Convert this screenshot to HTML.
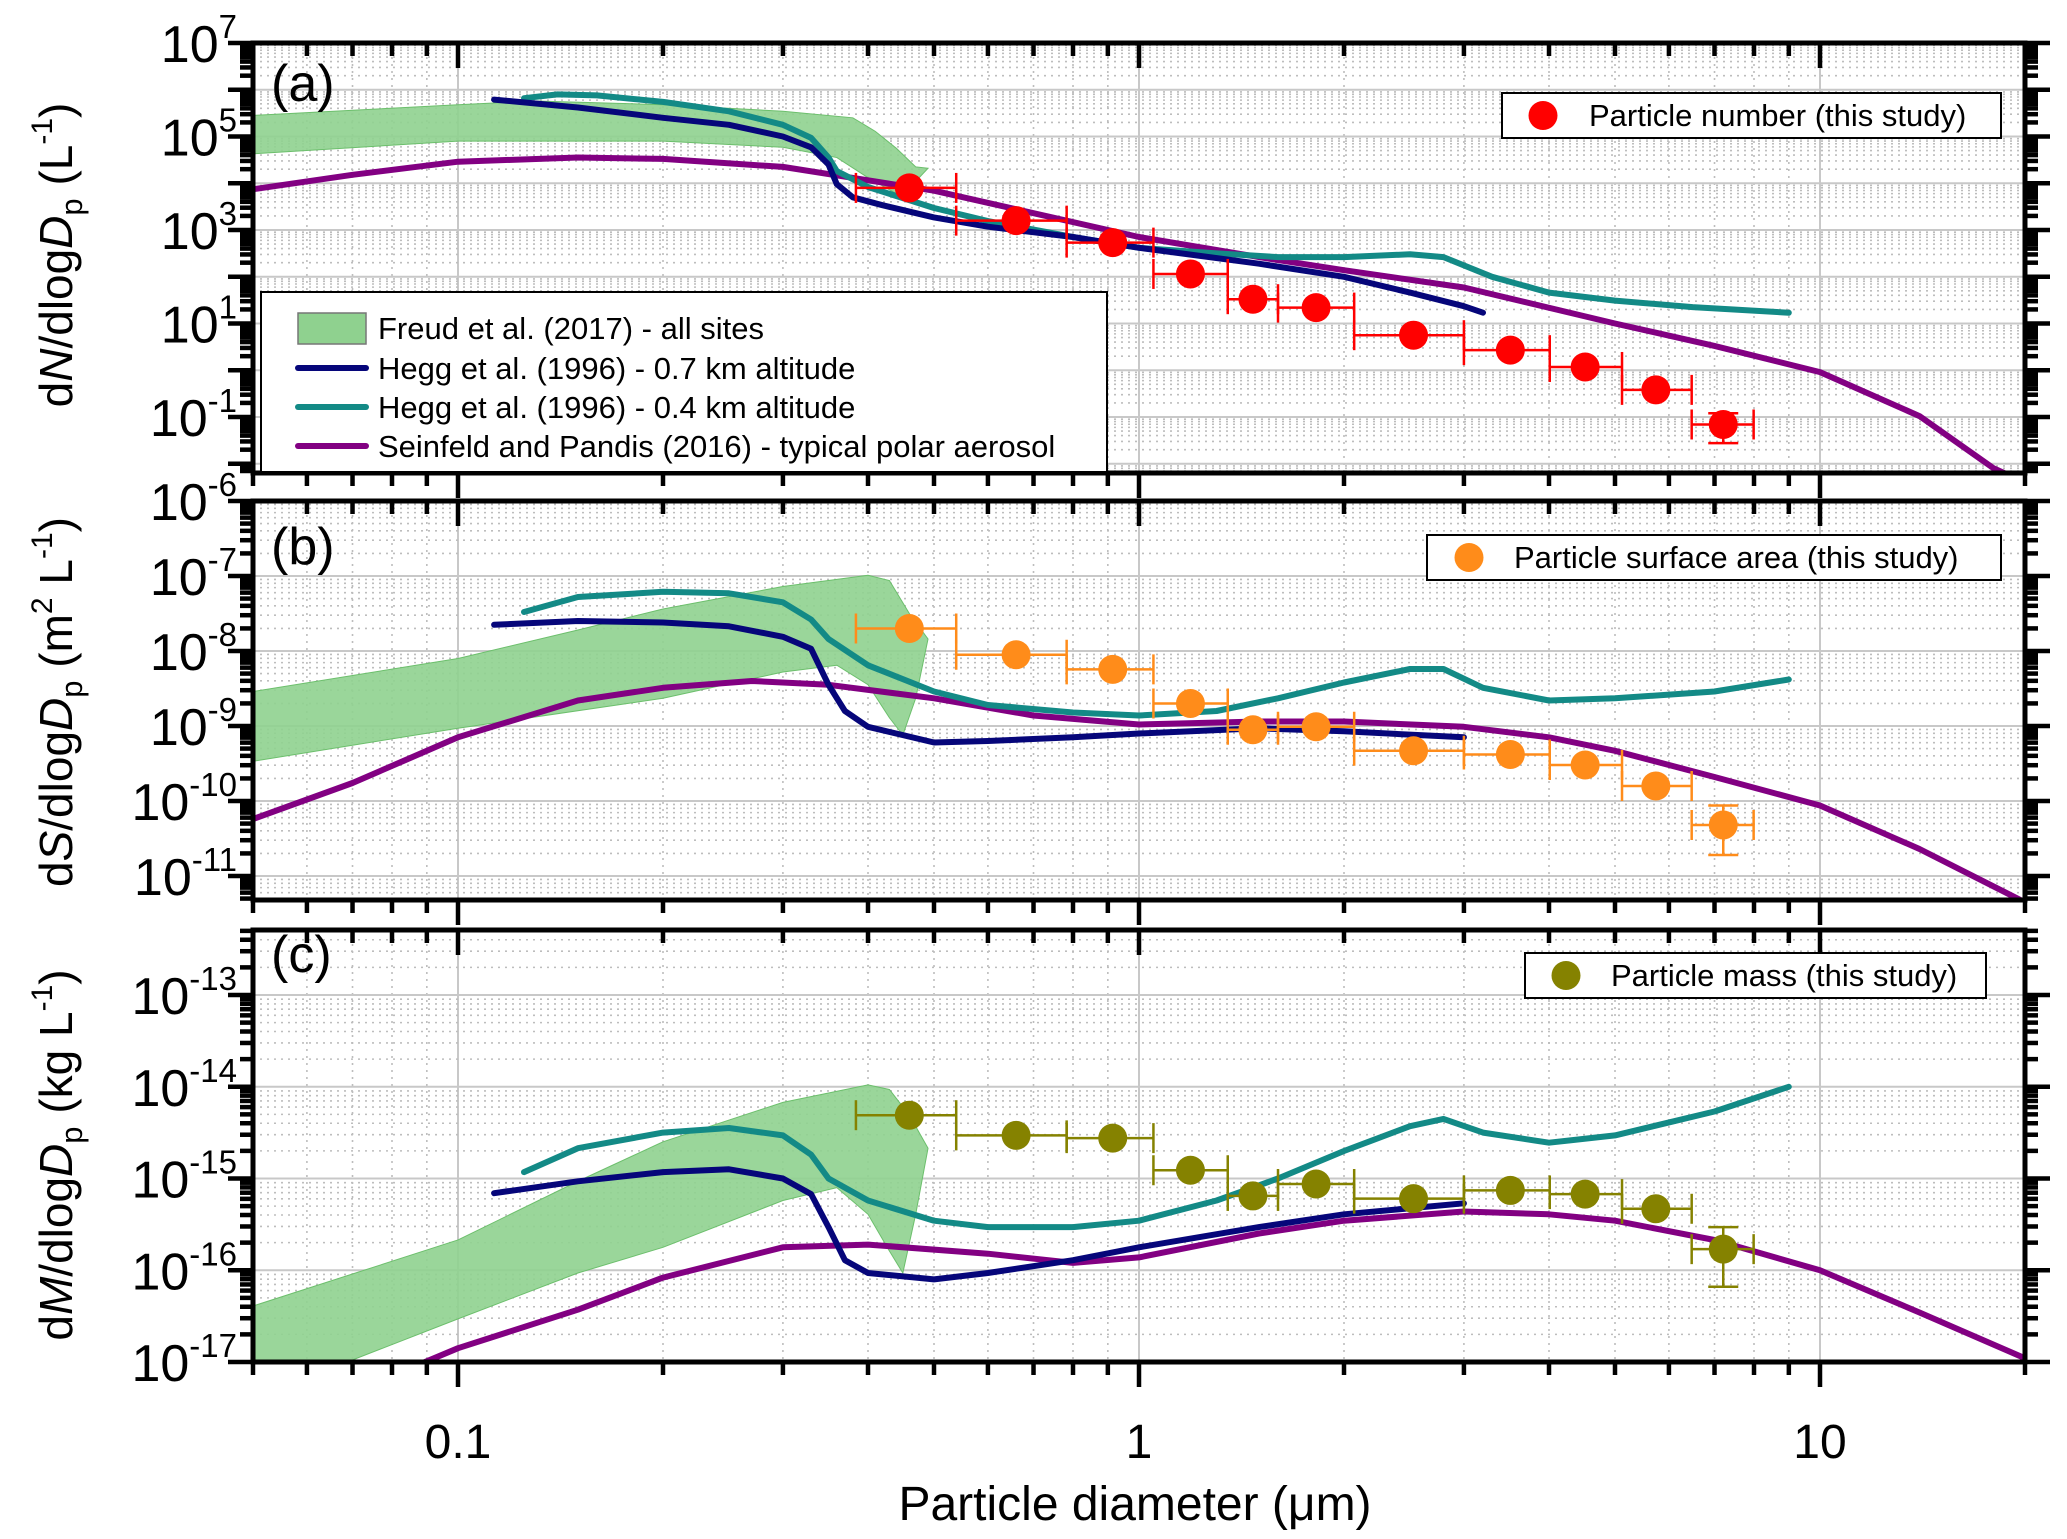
<!DOCTYPE html>
<html><head><meta charset="utf-8"><style>
html,body{margin:0;padding:0;background:#fff}
svg{display:block;font-family:"Liberation Sans",Arial,sans-serif}
</style></head><body>
<svg id="chart" width="2067" height="1539" viewBox="0 0 2067 1539" xmlns="http://www.w3.org/2000/svg">
<defs>
<clipPath id="clipA"><rect x="253" y="43" width="1772" height="430"/></clipPath>
<clipPath id="clipB"><rect x="253" y="501" width="1772" height="399"/></clipPath>
<clipPath id="clipC"><rect x="253" y="930" width="1772" height="432"/></clipPath>
</defs>
<g id="root"></g>
</svg>
<script>
// ---- data (diameters in µm; concentrations as log10 values) ----
const binCenters = [0.46,0.66,0.915,1.19,1.47,1.82,2.53,3.51,4.52,5.74,7.21];
const binEdges = [0.384,0.539,0.783,1.05,1.35,1.60,2.07,3.0,4.01,5.12,6.48,7.99];
const numberLog = [3.90,3.20,2.73,2.06,1.52,1.34,0.75,0.43,0.07,-0.42,-1.16];
const surfaceLog = [-7.70,-8.05,-8.245,-8.70,-9.05,-9.01,-9.33,-9.38,-9.52,-9.80,-10.32];
const massLog = [-14.31,-14.53,-14.56,-14.91,-15.19,-15.06,-15.22,-15.13,-15.17,-15.33,-15.77];
const numberLastErr = [-1.56,-0.92];
const surfaceLastErr = [-10.72,-10.06];
const massLastErr = [-16.18,-15.53];

const freudUpperD = [0.05,0.1,0.13,0.2,0.3,0.38,0.41,0.44,0.47,0.49];
const freudUpperA = [5.45,5.68,5.76,5.68,5.54,5.4,5.11,4.75,4.35,4.32];
const freudLowerD = [0.05,0.1,0.2,0.3,0.36,0.4,0.44,0.47,0.49];
const freudLowerA = [4.63,4.9,4.9,4.77,4.55,4.12,3.78,4.04,4.32];
const freudUpperDB = [0.05,0.1,0.15,0.2,0.3,0.4,0.43,0.46,0.49];
const freudUpperB = [-8.54,-8.1,-7.72,-7.44,-7.14,-6.99,-7.06,-7.5,-7.84];
const freudLowerDB = [0.05,0.1,0.2,0.3,0.36,0.4,0.43,0.45,0.47,0.49];
const freudLowerB = [-9.47,-9.03,-8.63,-8.28,-8.19,-8.45,-8.89,-9.12,-8.63,-7.84];
const freudUpperC = [-16.39,-15.67,-15.03,-14.6,-14.17,-13.98,-14.03,-14.31,-14.67];
const freudLowerC = [-17.4,-16.53,-16.03,-15.75,-15.24,-15.1,-15.39,-15.79,-16.03,-15.39,-14.67];
const freudLowerDC = [0.05,0.1,0.15,0.2,0.3,0.36,0.4,0.43,0.45,0.47,0.49];

const hegg07D = [0.113,0.15,0.2,0.25,0.3,0.33,0.35,0.36,0.38,0.42,0.5,0.6,0.8,1.0,1.5,2.0,2.5,3.0,3.2];
const hegg07A = [5.79,5.62,5.4,5.25,5.0,4.77,4.4,3.98,3.7,3.53,3.27,3.07,2.85,2.62,2.28,2.0,1.66,1.37,1.23];
const hegg07DB = [0.113,0.15,0.2,0.25,0.3,0.33,0.35,0.37,0.4,0.5,0.6,0.8,1.0,1.5,2,3];
const hegg07B = [-7.65,-7.6,-7.62,-7.67,-7.81,-7.97,-8.45,-8.8,-9.01,-9.22,-9.2,-9.15,-9.1,-9.03,-9.07,-9.15];
const hegg07C = [-15.16,-15.03,-14.93,-14.9,-15.0,-15.17,-15.53,-15.89,-16.03,-16.1,-16.03,-15.89,-15.75,-15.53,-15.39,-15.27];

const hegg04D = [0.125,0.14,0.16,0.2,0.25,0.3,0.33,0.35,0.36,0.4,0.5,0.6,0.8,1.0,1.3,1.6,2.0,2.5,2.8,3.3,4.0,5.0,6.5,9.0];
const hegg04A = [5.82,5.9,5.88,5.74,5.54,5.25,4.97,4.55,4.26,3.92,3.47,3.19,2.85,2.62,2.5,2.42,2.42,2.48,2.42,2.0,1.66,1.49,1.35,1.23];
const hegg04DB = [0.125,0.15,0.2,0.25,0.3,0.33,0.35,0.4,0.5,0.6,0.8,1.0,1.3,1.6,2.0,2.5,2.8,3.2,4.0,5.0,7,9];
const hegg04B = [-7.48,-7.28,-7.21,-7.23,-7.35,-7.58,-7.84,-8.19,-8.54,-8.72,-8.82,-8.86,-8.8,-8.63,-8.42,-8.24,-8.24,-8.49,-8.66,-8.63,-8.54,-8.38];
const hegg04C = [-14.93,-14.67,-14.5,-14.45,-14.53,-14.74,-15.0,-15.24,-15.46,-15.53,-15.53,-15.46,-15.24,-15.0,-14.7,-14.43,-14.35,-14.5,-14.61,-14.53,-14.27,-14.0];

const seinD = [0.05,0.07,0.1,0.15,0.2,0.3,0.5,0.7,1.0,1.5,2,3,5,7,10,14,18,20];
const seinA = [3.87,4.18,4.46,4.55,4.52,4.35,3.84,3.36,2.85,2.42,2.14,1.77,1.0,0.52,-0.04,-0.98,-2.1,-2.4];
const seinDB = [0.05,0.07,0.1,0.15,0.2,0.27,0.35,0.5,0.7,1.0,1.5,2,3,4,5,7,10,14,20];
const seinB = [-10.24,-9.76,-9.15,-8.66,-8.49,-8.4,-8.45,-8.63,-8.86,-8.98,-8.94,-8.94,-9.01,-9.15,-9.33,-9.68,-10.06,-10.64,-11.35];
const seinDC = [0.08,0.1,0.15,0.2,0.3,0.4,0.6,0.8,1.0,1.5,2,3,4,5,7,10,14,20];
const seinC = [-17.15,-16.85,-16.43,-16.08,-15.75,-15.72,-15.82,-15.92,-15.86,-15.6,-15.46,-15.36,-15.39,-15.46,-15.67,-16.0,-16.46,-16.96];

const xTickLabels = ["0.1","1","10"];
const xTickValues = [0.1,1,10];

// ---- layout ----
const NS="http://www.w3.org/2000/svg";
const root=document.getElementById('root');
const L=253,R=2025;
const lmin=Math.log10(0.05),lmax=Math.log10(20);
const X=d=>L+(Math.log10(d)-lmin)/(lmax-lmin)*(R-L);
const panels={
 a:{top:43,bottom:473,Y:l=>43+(7-l)*46.75,lo:-2.2,hi:7,clip:'clipA',labels:[7,5,3,1,-1]},
 b:{top:501,bottom:900,Y:l=>501+(-6-l)*75,lo:-11.32,hi:-6,clip:'clipB',labels:[-6,-7,-8,-9,-10,-11]},
 c:{top:930,bottom:1362,Y:l=>1362-(l+17)*91.75,lo:-17,hi:-12.29,clip:'clipC',labels:[-13,-14,-15,-16,-17]}
};
function mk(tag,attrs,parent){const e=document.createElementNS(NS,tag);for(const k in attrs)e.setAttribute(k,attrs[k]);(parent||root).appendChild(e);return e;}

function drawGrid(p,g){
  for(let e=-2;e<=1;e++)for(let m=1;m<=9;m++){
    const d=m*Math.pow(10,e); if(d<0.05||d>20)continue;
    const x=X(d);
    const ln=mk('line',{x1:x,x2:x,y1:p.top,y2:p.bottom,stroke:m===1?'#c8c8c8':'#bdbdbd','stroke-width':m===1?2:1.6,'stroke-dasharray':m===1?'none':'2 5'},g);
    
    
  }
  for(let e=Math.floor(p.lo);e<=Math.ceil(p.hi);e++)for(let m=1;m<=9;m++){
    const l=e+Math.log10(m); if(l<p.lo||l>p.hi)continue;
    const y=p.Y(l);
    const ln=mk('line',{x1:L,x2:R,y1:y,y2:y,stroke:m===1?'#c8c8c8':'#bdbdbd','stroke-width':m===1?2:1.6,'stroke-dasharray':m===1?'none':'2 5'},g);
    
    
  }
}
function drawAxes(p,name){
  const g=mk('g',{});
  
  
  for(let e=Math.floor(p.lo);e<=Math.ceil(p.hi);e++)for(let m=1;m<=9;m++){
    const l=e+Math.log10(m); if(l<p.lo-0.001||l>p.hi+0.001)continue;
    const y=p.Y(l),len=m===1?25:13;
    mk('line',{x1:L-len,x2:L,y1:y,y2:y,stroke:'#000','stroke-width':4.5},g);
    mk('line',{x1:R,x2:R+len,y1:y,y2:y,stroke:'#000','stroke-width':4.5},g);
  }
  for(let e=-2;e<=1;e++)for(let m=1;m<=9;m++){
    const d=m*Math.pow(10,e); if(d<0.05||d>20)continue;
    const x=X(d),len=m===1?25:13;
    mk('line',{x1:x,x2:x,y1:p.bottom,y2:p.bottom+len,stroke:'#000','stroke-width':4.5},g);
    mk('line',{x1:x,x2:x,y1:p.top,y2:p.top+len,stroke:'#000','stroke-width':4.5},g);
  }
  mk('rect',{x:L,y:p.top,width:R-L,height:p.bottom-p.top,fill:'none',stroke:'#000','stroke-width':5},g);
  p.labels.forEach(ex=>{
    const y=p.Y(ex);
    const t=mk('text',{x:237,y:y+19,'text-anchor':'end','font-size':52},g);
    
    
    const a=mk('tspan',{},t);a.textContent='10';
    const b=mk('tspan',{'font-size':33,dy:-24},t);b.textContent=String(ex);
  });
}
function path(ds,ls,p){return ds.map((d,i)=>(i?'L':'M')+X(d).toFixed(1)+' '+p.Y(ls[i]).toFixed(1)).join(' ');}
function band(du,up,dl,lo,p,g,name){
  const pts=du.map((d,i)=>X(d)+','+p.Y(up[i]));
  for(let i=dl.length-1;i>=0;i--)pts.push(X(dl[i])+','+p.Y(lo[i]));
  const e=mk('polygon',{points:pts.join(' '),fill:'#8fd18f','fill-opacity':0.9,stroke:'#6cbf6c','stroke-width':1},g);
  
  
}
function line(ds,ls,p,color,g,name){
  const e=mk('path',{d:path(ds,ls,p),fill:'none',stroke:color,'stroke-width':6,'stroke-linejoin':'round','stroke-linecap':'round'},g);
  
  
}
function points(vals,lastErr,p,color,g,name){
  vals.forEach((v,i)=>{
    const y=p.Y(v),x0=X(binEdges[i]),x1=X(binEdges[i+1]),xc=X(binCenters[i]);
    mk('line',{x1:x0,x2:x1,y1:y,y2:y,stroke:color,'stroke-width':2.5},g);
    mk('line',{x1:x0,x2:x0,y1:y-15,y2:y+15,stroke:color,'stroke-width':2.5},g);
    mk('line',{x1:x1,x2:x1,y1:y-15,y2:y+15,stroke:color,'stroke-width':2.5},g);
    if(i===vals.length-1){
      const ya=p.Y(lastErr[0]),yb=p.Y(lastErr[1]);
      mk('line',{x1:xc,x2:xc,y1:ya,y2:yb,stroke:color,'stroke-width':2.5},g);
      mk('line',{x1:xc-15,x2:xc+15,y1:ya,y2:ya,stroke:color,'stroke-width':2.5},g);
      mk('line',{x1:xc-15,x2:xc+15,y1:yb,y2:yb,stroke:color,'stroke-width':2.5},g);
    }
    const c=mk('circle',{cx:xc,cy:y,r:14.5,fill:color},g);
    
    
  });
}
const NAVY='#06067a',TEAL='#138a86',PURP='#820082',RED='#ff0000',ORANGE='#ff8c1a',OLIVE='#858200';

// panel a
(function(){const p=panels.a;const g=mk('g',{'clip-path':'url(#clipA)'});
 
 
 drawGrid(p,g);
 band(freudUpperD,freudUpperA,freudLowerD,freudLowerA,p,g,'freud-band-a');
 line(seinD,seinA,p,PURP,g,'seinfeld-line-a');
 line(hegg04D,hegg04A,p,TEAL,g,'hegg-04km-line-a');
 line(hegg07D,hegg07A,p,NAVY,g,'hegg-07km-line-a');
 points(numberLog,numberLastErr,p,RED,g,'particle-number');
 drawAxes(p,'panel-a');})();
// panel b
(function(){const p=panels.b;const g=mk('g',{'clip-path':'url(#clipB)'});
 
 
 drawGrid(p,g);
 band(freudUpperDB,freudUpperB,freudLowerDB,freudLowerB,p,g,'freud-band-b');
 line(seinDB,seinB,p,PURP,g,'seinfeld-line-b');
 line(hegg04DB,hegg04B,p,TEAL,g,'hegg-04km-line-b');
 line(hegg07DB,hegg07B,p,NAVY,g,'hegg-07km-line-b');
 points(surfaceLog,surfaceLastErr,p,ORANGE,g,'particle-surface');
 drawAxes(p,'panel-b');})();
// panel c
(function(){const p=panels.c;const g=mk('g',{'clip-path':'url(#clipC)'});
 
 
 drawGrid(p,g);
 band(freudUpperDB,freudUpperC,freudLowerDC,freudLowerC,p,g,'freud-band-c');
 line(seinDC,seinC,p,PURP,g,'seinfeld-line-c');
 line(hegg04DB,hegg04C,p,TEAL,g,'hegg-04km-line-c');
 line(hegg07DB,hegg07C,p,NAVY,g,'hegg-07km-line-c');
 points(massLog,massLastErr,p,OLIVE,g,'particle-mass');
 drawAxes(p,'panel-c');})();

// x tick labels
xTickValues.forEach((v,i)=>{
  const t=mk('text',{x:X(v),y:1458,'text-anchor':'middle','font-size':48});
  
  
  t.textContent=xTickLabels[i];
});
</script>
<svg style="position:absolute;left:0;top:0" width="2067" height="1539" viewBox="0 0 2067 1539">
<g font-family="Liberation Sans, Arial, sans-serif">
<text x="1135" y="1520" text-anchor="middle" font-size="48">Particle diameter (μm)</text>
<text transform="translate(72,255) rotate(-90)" text-anchor="middle" font-size="46">d<tspan font-style="italic">N</tspan>/dlog<tspan font-style="italic">D</tspan><tspan font-size="31" dy="10">p</tspan><tspan dy="-10"> (L</tspan><tspan font-size="30" dy="-20">-1</tspan><tspan dy="20">)</tspan></text>
<text transform="translate(72,702) rotate(-90)" text-anchor="middle" font-size="46">d<tspan font-style="italic">S</tspan>/dlog<tspan font-style="italic">D</tspan><tspan font-size="31" dy="10">p</tspan><tspan dy="-10"> (m</tspan><tspan font-size="30" dy="-20">2</tspan><tspan dy="20"> L</tspan><tspan font-size="30" dy="-20">-1</tspan><tspan dy="20">)</tspan></text>
<text transform="translate(72,1155) rotate(-90)" text-anchor="middle" font-size="46">d<tspan font-style="italic">M</tspan>/dlog<tspan font-style="italic">D</tspan><tspan font-size="31" dy="10">p</tspan><tspan dy="-10"> (kg L</tspan><tspan font-size="30" dy="-20">-1</tspan><tspan dy="20">)</tspan></text>
<text x="271" y="101" font-size="52">(a)</text>
<text x="271" y="564" font-size="52">(b)</text>
<text x="271" y="972" font-size="52">(c)</text>

<g>
<rect x="1502" y="93" width="499" height="45" fill="#fff" stroke="#000" stroke-width="2"/>
<circle cx="1543" cy="115.5" r="14.5" fill="#ff0000"/>
<text x="1589" y="126" font-size="31">Particle number (this study)</text>
</g>
<g>
<rect x="1427" y="535" width="574" height="45" fill="#fff" stroke="#000" stroke-width="2"/>
<circle cx="1469" cy="557.5" r="14.5" fill="#ff8c1a"/>
<text x="1514" y="568" font-size="31">Particle surface area (this study)</text>
</g>
<g>
<rect x="1525" y="953" width="461" height="45" fill="#fff" stroke="#000" stroke-width="2"/>
<circle cx="1566" cy="975.5" r="14.5" fill="#858200"/>
<text x="1611" y="986" font-size="31">Particle mass (this study)</text>
</g>
<g>
<rect x="261" y="292" width="846" height="180" fill="#fff" stroke="#000" stroke-width="2"/>
<rect x="298" y="313" width="68" height="31" fill="#8fd18f" stroke="#777" stroke-width="1.5"/>
<text x="378" y="339" font-size="31">Freud et al. (2017) - all sites</text>
<line x1="298" x2="366" y1="368" y2="368" stroke="#06067a" stroke-width="6" stroke-linecap="round"/>
<text x="378" y="379" font-size="31">Hegg et al. (1996) - 0.7 km altitude</text>
<line x1="298" x2="366" y1="407" y2="407" stroke="#138a86" stroke-width="6" stroke-linecap="round"/>
<text x="378" y="418" font-size="31">Hegg et al. (1996) - 0.4 km altitude</text>
<line x1="298" x2="366" y1="446" y2="446" stroke="#820082" stroke-width="6" stroke-linecap="round"/>
<text x="378" y="457" font-size="31">Seinfeld and Pandis (2016) - typical polar aerosol</text>
</g>
</g>
</svg>
<script>document.body.style.position='relative';</script>
</body></html>
